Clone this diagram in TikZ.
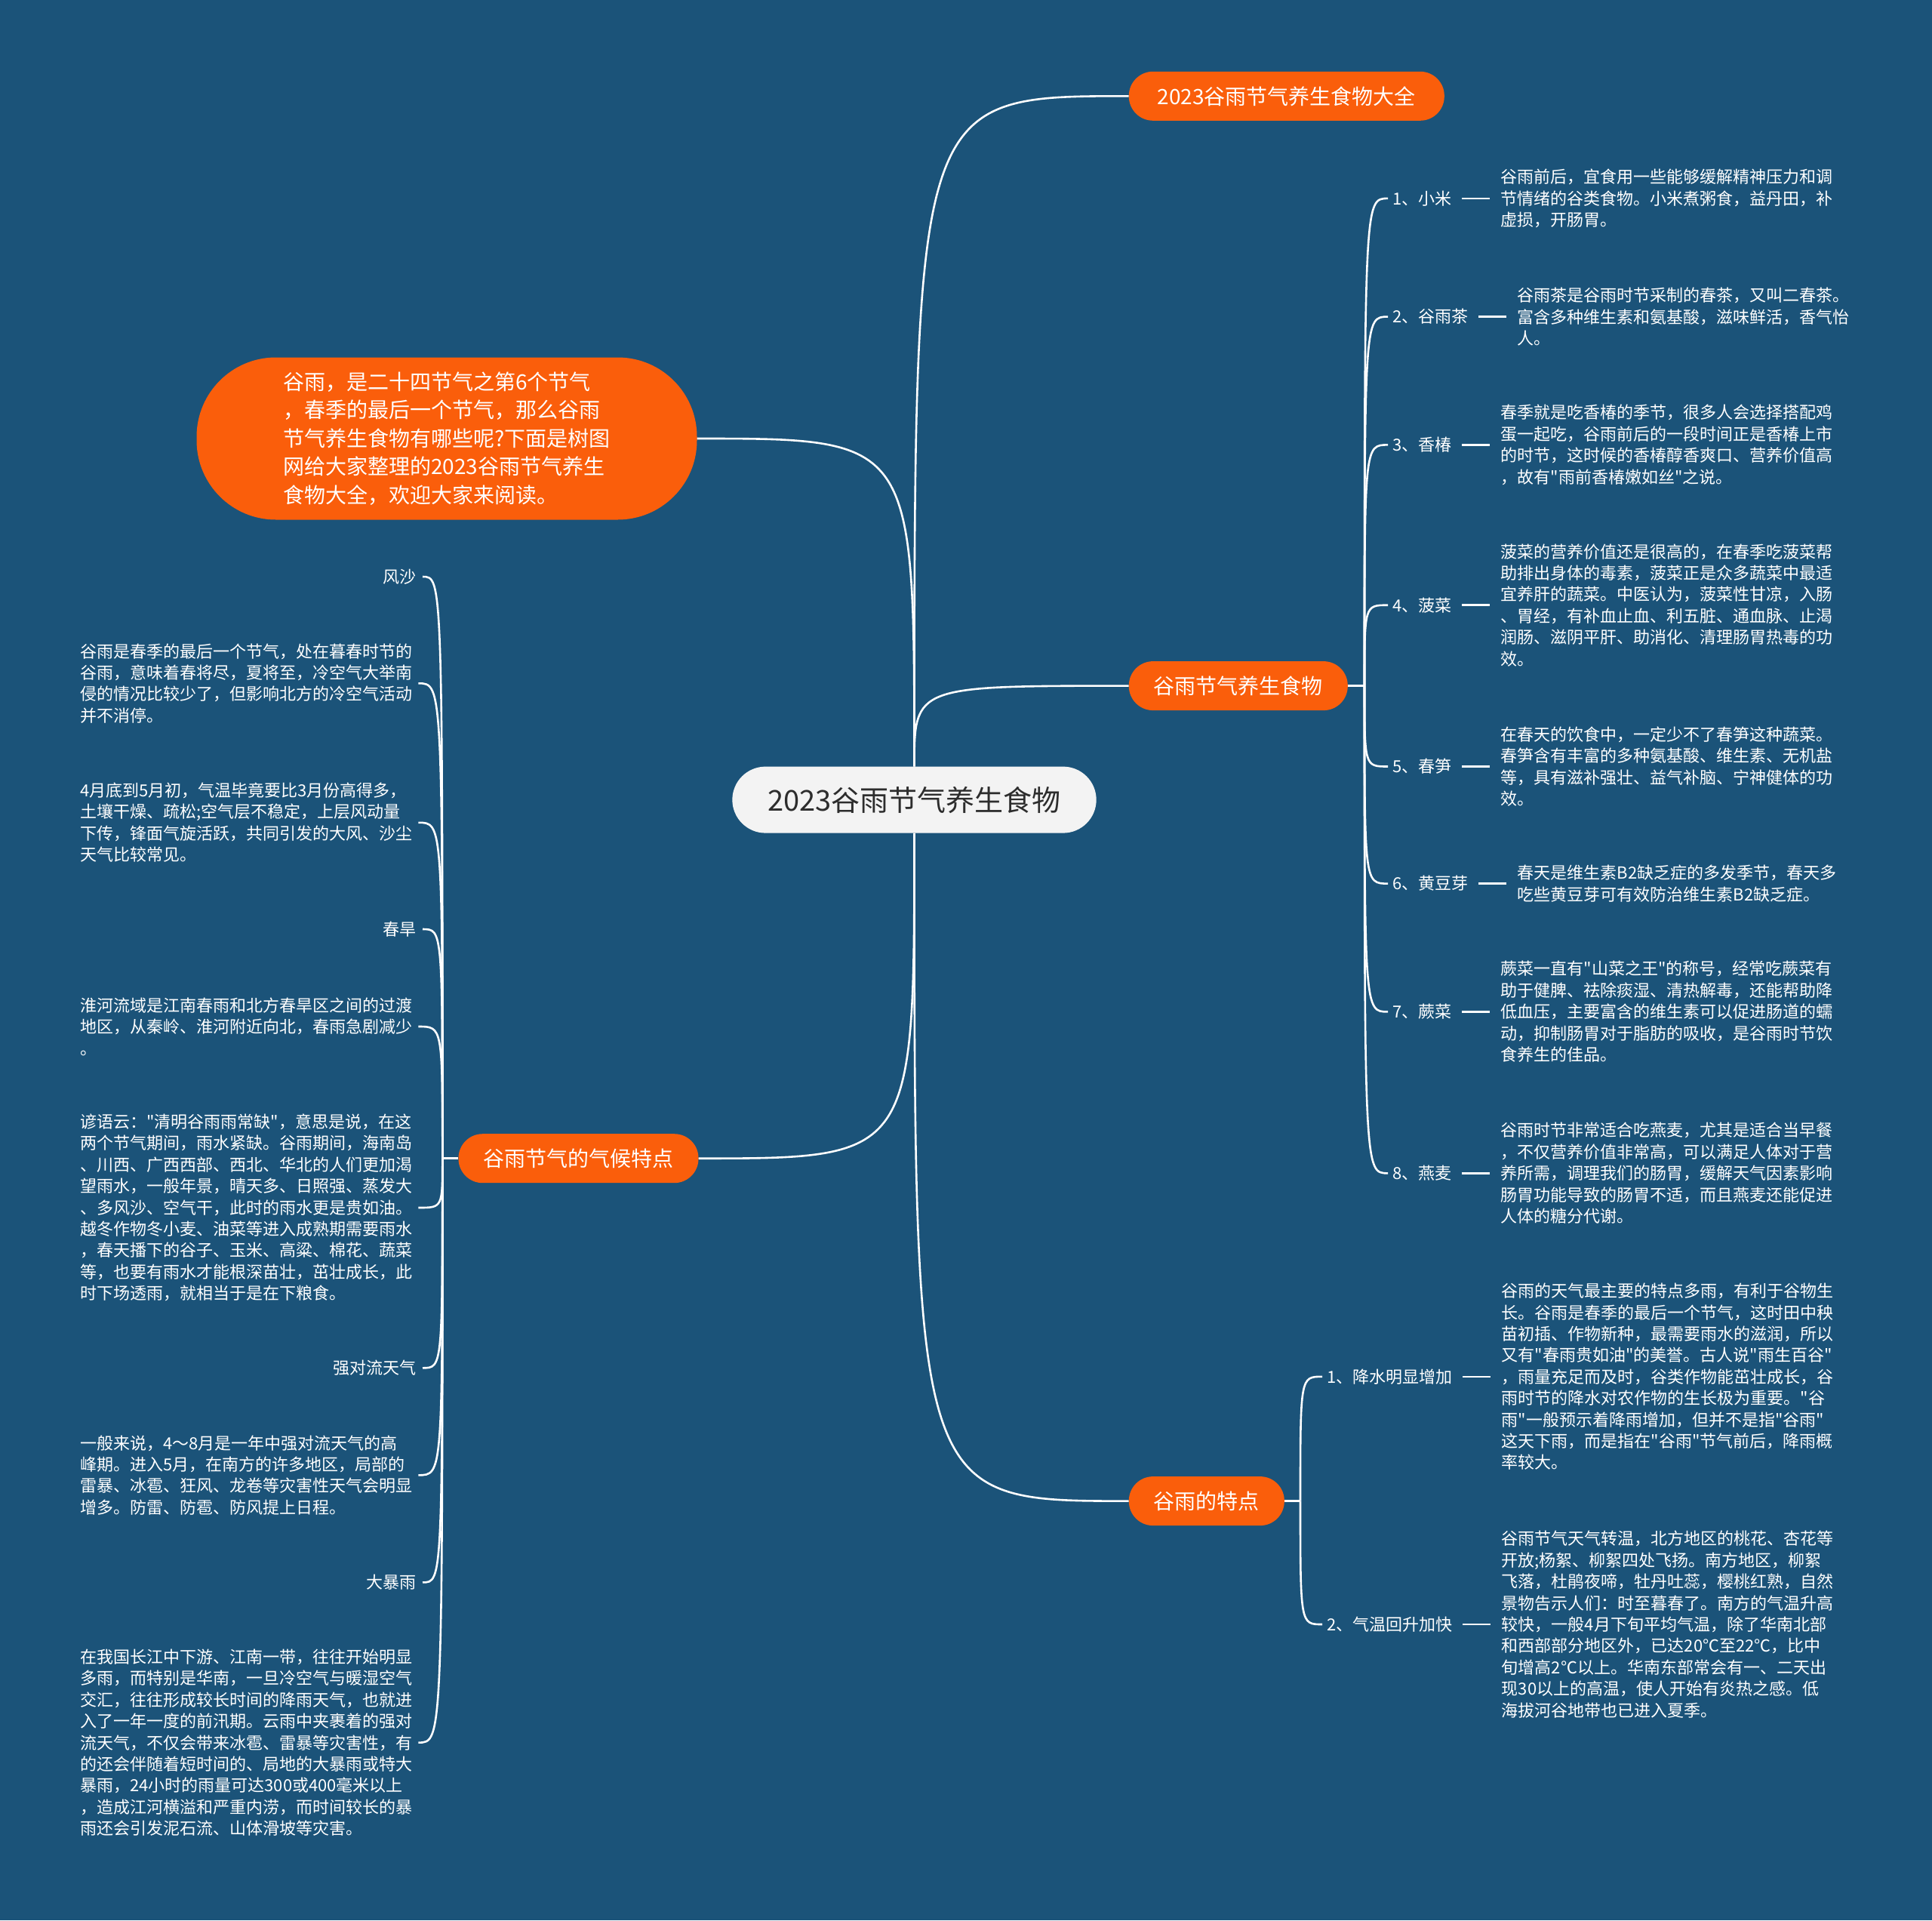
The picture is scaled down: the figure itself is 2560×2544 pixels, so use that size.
\documentclass[tikz,border=0pt]{standalone}
\usepackage{fontspec}
\setmainfont{Noto Sans CJK SC}[Ligatures=TeXOff]
\usetikzlibrary{positioning,calc}
\definecolor{bgblue}{RGB}{27,83,121}
\definecolor{orangeM}{RGB}{250,94,11}
\definecolor{centerfill}{RGB}{243,243,243}
\definecolor{centertext}{RGB}{45,45,45}
\begin{document}
\begin{tikzpicture}[x=1pt,y=-1pt,
  link/.style={draw=white,line width=2.6pt},
  dashlink/.style={draw=white,line width=2.6pt,shorten <=7.5pt,shorten >=10.5pt},
  mainnode/.style={fill=orangeM,text=white,rounded corners=32pt,minimum height=65pt,inner xsep=33pt,inner ysep=0pt,font=\fontsize{28}{34}\selectfont},
  centernode/.style={fill=centerfill,text=centertext,rounded corners=44pt,minimum height=88pt,inner xsep=47pt,inner ysep=0pt,font=\fontsize{38}{44}\selectfont},
  intronode/.style={fill=orangeM,text=white,rounded corners=105pt,minimum width=663pt,minimum height=215pt,align=left,font=\fontsize{28}{37.6}\selectfont},
  lab/.style={text=white,inner xsep=6pt,inner ysep=3pt,font=\fontsize{22}{28.4}\selectfont},
  llab/.style={text=white,inner xsep=8pt,inner ysep=3pt,font=\fontsize{22}{28.4}\selectfont},
  desc/.style={text=white,inner xsep=4pt,inner ysep=2pt,align=left,font=\fontsize{22}{28.4}\selectfont},
  ldesc/.style={text=white,inner xsep=8pt,inner ysep=2pt,align=left,font=\fontsize{22}{28.4}\selectfont}
]
\useasboundingbox (0,0) rectangle (2560,2544);
\fill[bgblue] (0,0) rectangle (2560,2544);

% main nodes
\node[centernode] (c) at (1211.5,1059.6) {2023谷雨节气养生食物};
\node[mainnode,anchor=west,minimum width=418pt] (top) at (1495.6,127.3) {2023谷雨节气养生食物大全};
\node[intronode] (intro) at (592,581) {谷雨，是二十四节气之第6个节气\\，春季的最后一个节气，那么谷雨\\节气养生食物有哪些呢?下面是树图\\网给大家整理的2023谷雨节气养生\\食物大全，欢迎大家来阅读。};
\node[mainnode,anchor=west] (ys) at (1495.6,908.6) {谷雨节气养生食物};
\node[mainnode,anchor=east] (cl) at (925.7,1534.7) {谷雨节气的气候特点};
\node[mainnode,anchor=west] (td) at (1495.6,1988.6) {谷雨的特点};

\draw[link] (c.north) .. controls (c.north |- top.west) .. (top.west);
\draw[link] (intro.east) .. controls (c.north |- intro.east) .. (c.north);
\draw[link] (c.north) .. controls (c.north |- ys.west) .. (ys.west);
\draw[link] (c.south) .. controls (c.south |- cl.east) .. (cl.east);
\draw[link] (c.south) .. controls (c.south |- td.west) .. (td.west);

% right group: food
\coordinate (h1) at ($(ys.east)+(22,0)$);
\draw[link] (ys.east) -- (h1);
\node[lab,anchor=west] (l1) at (1839,262.9) {1、小米};
\node[lab,anchor=west] (l2) at (1839,419.6) {2、谷雨茶};
\node[lab,anchor=west] (l3) at (1839,589.4) {3、香椿};
\node[lab,anchor=west] (l4) at (1839,801.7) {4、菠菜};
\node[lab,anchor=west] (l5) at (1839,1015.5) {5、春笋};
\node[lab,anchor=west] (l6) at (1839,1170.6) {6、黄豆芽};
\node[lab,anchor=west] (l7) at (1839,1340.4) {7、蕨菜};
\node[lab,anchor=west] (l8) at (1839,1554.3) {8、燕麦};
\foreach \n in {l1,l2,l3,l4,l5,l6,l7,l8}{
  \draw[link] (h1) .. controls (h1 |- \n.west) .. (\n.west);
}
\node[desc,right=55pt of l1] (d1) {谷雨前后，宜食用一些能够缓解精神压力和调\\节情绪的谷类食物。小米煮粥食，益丹田，补\\虚损，开肠胃。};
\node[desc,right=55pt of l2] (d2) {谷雨茶是谷雨时节采制的春茶，又叫二春茶。\\富含多种维生素和氨基酸，滋味鲜活，香气怡\\人。};
\node[desc,right=55pt of l3] (d3) {春季就是吃香椿的季节，很多人会选择搭配鸡\\蛋一起吃，谷雨前后的一段时间正是香椿上市\\的时节，这时候的香椿醇香爽口、营养价值高\\，故有"雨前香椿嫩如丝"之说。};
\node[desc,right=55pt of l4] (d4) {菠菜的营养价值还是很高的，在春季吃菠菜帮\\助排出身体的毒素，菠菜正是众多蔬菜中最适\\宜养肝的蔬菜。中医认为，菠菜性甘凉，入肠\\、胃经，有补血止血、利五脏、通血脉、止渴\\润肠、滋阴平肝、助消化、清理肠胃热毒的功\\效。};
\node[desc,right=55pt of l5] (d5) {在春天的饮食中，一定少不了春笋这种蔬菜。\\春笋含有丰富的多种氨基酸、维生素、无机盐\\等，具有滋补强壮、益气补脑、宁神健体的功\\效。};
\node[desc,right=55pt of l6] (d6) {春天是维生素B2缺乏症的多发季节，春天多\\吃些黄豆芽可有效防治维生素B2缺乏症。};
\node[desc,right=55pt of l7] (d7) {蕨菜一直有"山菜之王"的称号，经常吃蕨菜有\\助于健脾、祛除痰湿、清热解毒，还能帮助降\\低血压，主要富含的维生素可以促进肠道的蠕\\动，抑制肠胃对于脂肪的吸收，是谷雨时节饮\\食养生的佳品。};
\node[desc,right=55pt of l8] (d8) {谷雨时节非常适合吃燕麦，尤其是适合当早餐\\，不仅营养价值非常高，可以满足人体对于营\\养所需，调理我们的肠胃，缓解天气因素影响\\肠胃功能导致的肠胃不适，而且燕麦还能促进\\人体的糖分代谢。};
\foreach \n in {1,...,8}{
  \draw[dashlink] (l\n) -- (d\n);
}

% right group: features
\coordinate (h2) at ($(td.east)+(21,0)$);
\draw[link] (td.east) -- (h2);
\node[lab,anchor=west] (m1) at (1752,1823.8) {1、降水明显增加};
\node[lab,anchor=west] (m2) at (1752,2152) {2、气温回升加快};
\draw[link] (h2) .. controls (h2 |- m1.west) .. (m1.west);
\draw[link] (h2) .. controls (h2 |- m2.west) .. (m2.west);
\node[desc,right=55pt of m1] (e1) {谷雨的天气最主要的特点多雨，有利于谷物生\\长。谷雨是春季的最后一个节气，这时田中秧\\苗初插、作物新种，最需要雨水的滋润，所以\\又有"春雨贵如油"的美誉。古人说"雨生百谷"\\，雨量充足而及时，谷类作物能茁壮成长，谷\\雨时节的降水对农作物的生长极为重要。"谷\\雨"一般预示着降雨增加，但并不是指"谷雨"\\这天下雨，而是指在"谷雨"节气前后，降雨概\\率较大。};
\node[desc,right=55pt of m2] (e2) {谷雨节气天气转温，北方地区的桃花、杏花等\\开放;杨絮、柳絮四处飞扬。南方地区，柳絮\\飞落，杜鹃夜啼，牡丹吐蕊，樱桃红熟，自然\\景物告示人们：时至暮春了。南方的气温升高\\较快，一般4月下旬平均气温，除了华南北部\\和西部部分地区外，已达20℃至22℃，比中\\旬增高2℃以上。华南东部常会有一、二天出\\现30以上的高温，使人开始有炎热之感。低\\海拔河谷地带也已进入夏季。};
\draw[dashlink] (m1) -- (e1);
\draw[dashlink] (m2) -- (e2);

% left group: climate
\coordinate (h3) at ($(cl.west)+(-21,0)$);
\draw[link] (cl.west) -- (h3);
\node[llab,anchor=east] (k1) at (560,764) {风沙};
\node[ldesc,anchor=west] (k2) at (98,905.3) {谷雨是春季的最后一个节气，处在暮春时节的\\谷雨，意味着春将尽，夏将至，冷空气大举南\\侵的情况比较少了，但影响北方的冷空气活动\\并不消停。};
\node[ldesc,anchor=west] (k3) at (98,1089.8) {4月底到5月初，气温毕竟要比3月份高得多，\\土壤干燥、疏松;空气层不稳定，上层风动量\\下传，锋面气旋活跃，共同引发的大风、沙尘\\天气比较常见。};
\node[llab,anchor=east] (k4) at (560,1231) {春旱};
\node[ldesc,anchor=west] (k5) at (98,1360) {淮河流域是江南春雨和北方春旱区之间的过渡\\地区，从秦岭、淮河附近向北，春雨急剧减少\\。};
\node[ldesc,anchor=west] (k6) at (98,1600) {谚语云："清明谷雨雨常缺"，意思是说，在这\\两个节气期间，雨水紧缺。谷雨期间，海南岛\\、川西、广西西部、西北、华北的人们更加渴\\望雨水，一般年景，晴天多、日照强、蒸发大\\、多风沙、空气干，此时的雨水更是贵如油。\\越冬作物冬小麦、油菜等进入成熟期需要雨水\\，春天播下的谷子、玉米、高粱、棉花、蔬菜\\等，也要有雨水才能根深苗壮，茁壮成长，此\\时下场透雨，就相当于是在下粮食。};
\node[llab,anchor=east] (k7) at (560,1812.3) {强对流天气};
\node[ldesc,anchor=west] (k8) at (98,1954.3) {一般来说，4～8月是一年中强对流天气的高\\峰期。进入5月，在南方的许多地区，局部的\\雷暴、冰雹、狂风、龙卷等灾害性天气会明显\\增多。防雷、防雹、防风提上日程。};
\node[llab,anchor=east] (k9) at (560,2096.4) {大暴雨};
\node[ldesc,anchor=west] (k10) at (98,2308.6) {在我国长江中下游、江南一带，往往开始明显\\多雨，而特别是华南，一旦冷空气与暖湿空气\\交汇，往往形成较长时间的降雨天气，也就进\\入了一年一度的前汛期。云雨中夹裹着的强对\\流天气，不仅会带来冰雹、雷暴等灾害性，有\\的还会伴随着短时间的、局地的大暴雨或特大\\暴雨，24小时的雨量可达300或400毫米以上\\，造成江河横溢和严重内涝，而时间较长的暴\\雨还会引发泥石流、山体滑坡等灾害。};
\foreach \n in {k1,k2,k3,k4,k5,k6,k7,k8,k9,k10}{
  \draw[link] (h3) .. controls (h3 |- \n.east) .. (\n.east);
}
\end{tikzpicture}
\end{document}
